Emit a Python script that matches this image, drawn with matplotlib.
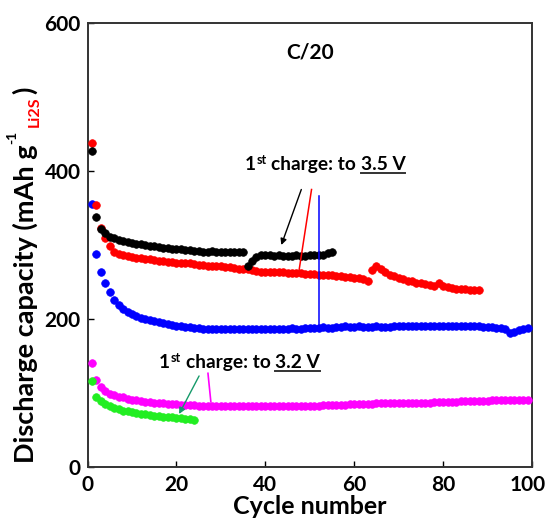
#!/usr/bin/env python3
"""Discharge capacity vs cycle number for Li2S cells (C/20)."""

import matplotlib

matplotlib.use("Agg")
import matplotlib.pyplot as plt
import numpy as np
from matplotlib.lines import Line2D
from matplotlib.transforms import IdentityTransform, ScaledTranslation

plt.rcParams["font.family"] = ["Lato", "DejaVu Sans"]
plt.rcParams["font.weight"] = "bold"

# ---- data (mAh/g Li2S), one value per cycle starting at cycle 1 ----
black_35V = [427, 338, 322, 316, 311, 309, 307, 305, 304, 303,
             302, 301, 300, 299, 298, 297, 296, 296, 295, 295,
             294, 293, 293, 292, 292, 291, 291, 292, 291, 290,
             291, 290, 290, 291, 290, 271, 279, 284, 286, 286,
             286, 285, 286, 285, 285, 285, 286, 285, 285, 286,
             286, 287, 287, 289, 290]
red_35V = [438, 354, 323, 309, 298, 291, 288, 286, 285, 284,
           283, 282, 281, 281, 280, 279, 278, 277, 277, 276,
           276, 275, 275, 274, 273, 273, 272, 272, 271, 271,
           270, 270, 269, 268, 268, 267, 266, 265, 264, 264,
           264, 263, 263, 263, 262, 262, 262, 262, 261, 261,
           261, 260, 260, 259, 259, 258, 258, 257, 257, 256,
           255, 254, 252, 266, 272, 267, 263, 260, 258, 256,
           254, 252, 251, 249, 248, 247, 246, 245, 249, 244,
           243, 242, 241, 240, 240, 239, 239, 239]
blue_35V = [356, 288, 263, 248, 236, 226, 219, 214, 210, 207,
            204, 202, 200, 199, 197, 196, 194, 193, 192, 191,
            190, 189, 189, 188, 188, 187, 187, 187, 186, 186,
            186, 186, 187, 186, 186, 187, 186, 187, 187, 187,
            187, 186, 187, 187, 187, 188, 187, 187, 188, 188,
            188, 188, 189, 188, 188, 189, 189, 190, 189, 189,
            190, 189, 189, 189, 190, 189, 189, 189, 190, 190,
            190, 190, 190, 190, 191, 190, 191, 191, 191, 191,
            191, 191, 190, 190, 191, 190, 190, 190, 189, 189,
            189, 188, 188, 187, 181, 182, 185, 187, 188]
magenta_32V = [140, 117, 108, 103, 99, 97, 95, 94, 92, 91,
               90, 89, 88, 88, 87, 86, 86, 85, 85, 85,
               84, 84, 84, 84, 83, 83, 83, 83, 83, 82,
               82, 82, 82, 82, 82, 82, 82, 82, 82, 82,
               82, 82, 82, 82, 83, 83, 83, 83, 83, 83,
               83, 83, 84, 84, 84, 84, 84, 84, 85, 85,
               85, 85, 85, 85, 86, 86, 86, 86, 86, 86,
               87, 87, 87, 87, 87, 87, 87, 88, 88, 88,
               88, 88, 88, 89, 89, 89, 89, 89, 89, 89,
               90, 90, 90, 90, 90, 91, 91, 91, 91]
green_32V = [116, 95, 89, 85, 82, 80, 78, 76, 75, 74,
             73, 72, 71, 70, 69, 69, 68, 67, 67, 66,
             66, 65, 65, 64]

x_ticks = [0, 20, 40, 60, 80, 100]
y_ticks = [0, 200, 400, 600]

series = [
    (magenta_32V, "#ff00ff"),
    (green_32V, "#22ee22"),
    (blue_35V, "#0000ff"),
    (red_35V, "#ff0000"),
    (black_35V, "#000000"),
]


def _space(fig, size):
    r = fig.canvas.get_renderer()
    a = fig.text(0, 0, "x x", fontsize=size, fontweight="bold")
    b = fig.text(0, 0, "xx", fontsize=size, fontweight="bold")
    w = a.get_window_extent(r).width - b.get_window_extent(r).width
    a.remove()
    b.remove()
    return w


def _hchain(fig, xc, yb, parts):
    """Centre a run of text pieces at display x=xc, baseline y=yb (pixels).

    parts: (text, size, color, dy, gap_before, underline)
    """
    r = fig.canvas.get_renderer()
    arts, widths = [], []
    for s, size, color, dy, gap, ul in parts:
        t = fig.text(0, 0, s, fontsize=size, color=color, fontweight="bold",
                     transform=IdentityTransform(), ha="left", va="baseline")
        arts.append(t)
        widths.append(t.get_window_extent(r).width)
    total = sum(widths) + sum(p[4] for p in parts)
    x = xc - total / 2
    for t, w, (s, size, color, dy, gap, ul) in zip(arts, widths, parts):
        x += gap
        t.set_position((x, yb + dy))
        if ul:
            fig.add_artist(Line2D([x, x + w], [yb - 3, yb - 3], color="#333333",
                                  lw=1.4, transform=IdentityTransform()))
        x += w


def _vchain(fig, yb, parts):
    """Stack rotated (90 deg) text pieces upwards from display y=yb."""
    r = fig.canvas.get_renderer()
    y = yb
    for s, size, color, xc, gap in parts:
        y += gap
        t = fig.text(xc, y, s, fontsize=size, color=color, fontweight="bold",
                     rotation=90, transform=IdentityTransform(),
                     ha="center", va="bottom")
        y += t.get_window_extent(r).height


fig = plt.figure(figsize=(5.48, 5.22), dpi=100)
ax = fig.add_axes([0.1597, 0.1054, 0.8111, 0.8505])

for values, color in series:
    cycles = np.arange(1, len(values) + 1)
    ax.plot(cycles, values, "o", ls="none", ms=5.5, color=color, mec=color,
            mew=0.5, zorder=3)

ax.set_xlim(0, 100)
ax.set_ylim(0, 600)
ax.set_xticks(x_ticks)
ax.set_yticks(y_ticks)
ax.tick_params(direction="in", length=4, width=1, top=False, right=False,
               labelsize=15, colors="black")
ax.tick_params(axis="x", pad=6)
ax.tick_params(axis="y", pad=5)
for sp in ax.spines.values():
    sp.set_linewidth(1.4)
    sp.set_color("#333333")
# keep the "100" label inside the canvas
last = ax.get_xticklabels()[-1]
last.set_transform(last.get_transform()
                   + ScaledTranslation(-4 / 100, 0, fig.dpi_scale_trans))

H = 522
fig.text(309.5, 8, "Cycle number", fontsize=18, fontweight="bold",
         ha="center", va="baseline", transform=IdentityTransform())

# annotations
ax.text(50, 560, "C/20", ha="center", va="center", fontsize=15,
        fontweight="bold")
ax.annotate("", xy=(43.6, 300), xytext=(48.1, 375),
            arrowprops=dict(arrowstyle="-|>", color="black", lw=1.0,
                            mutation_scale=9, shrinkA=0, shrinkB=0), zorder=5)
ax.plot([50.4, 47.6], [375, 266], color="red", lw=1.1, zorder=5)
ax.plot([52.1, 52.1], [366, 192], color="blue", lw=1.1, zorder=5)
ax.annotate("", xy=(20.6, 71.6), xytext=(25.1, 123),
            arrowprops=dict(arrowstyle="-|>", color="#159a6a", lw=1.0,
                            mutation_scale=9, shrinkA=0, shrinkB=0), zorder=5)
ax.plot([27.1, 27.75], [126.6, 88], color="#ff00ff", lw=1.2, zorder=5)

fs_note = 13.8
gap = _space(fig, fs_note)
for xc, yb, volt in [(325, H - 170, "3.5 V"), (239.5, H - 368, "3.2 V")]:
    _hchain(fig, xc, yb, [
        ("1", fs_note, "black", 0, 0, False),
        ("st", 9, "black", 6.5, 0.5, False),
        ("charge: to", fs_note, "black", 0, gap, False),
        (volt, fs_note, "black", 0, gap, True),
    ])

# y label with red Li2S subscript
_vchain(fig, H - 463, [
    ("Discharge capacity (mAh g", 19.5, "black", 25, 0),
    ("-1", 10, "black", 12, 1),
    ("Li2S", 11.5, "#ff0000", 35, 3),
    (")", 19.5, "black", 25, 3),
])

fig.savefig("out.png", dpi=100)
